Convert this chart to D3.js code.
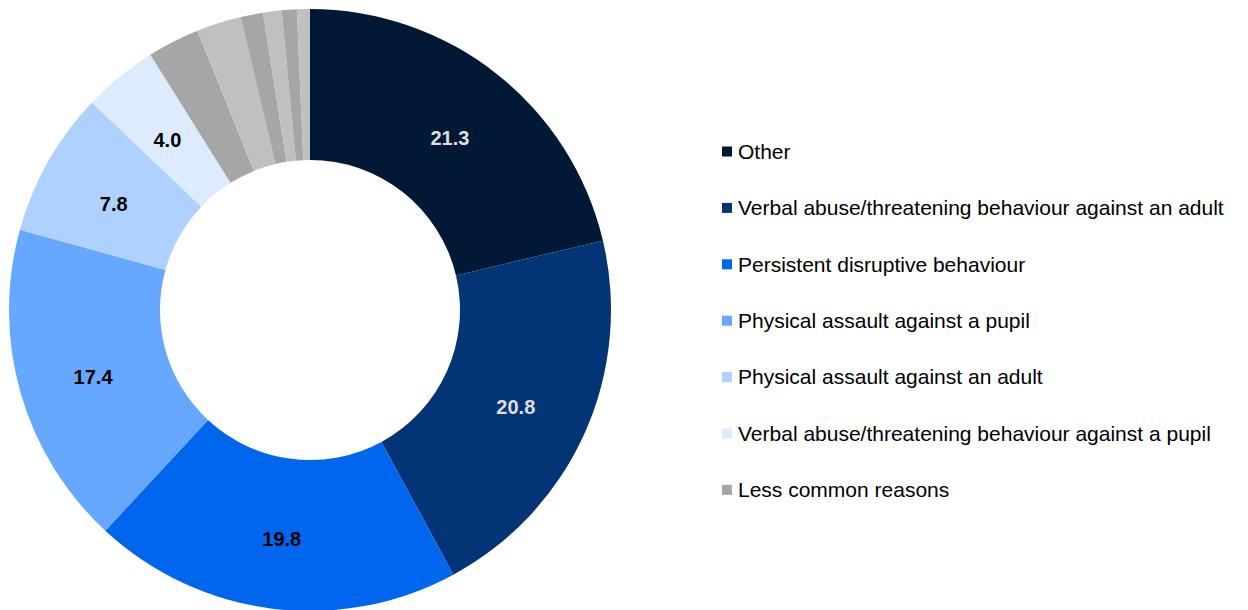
<!DOCTYPE html>
<html>
<head>
<meta charset="utf-8">
<script src="https://cdn.jsdelivr.net/npm/d3@7"></script>
<style>
  body { margin: 0; background: #fff; }
  text { font-family: "Liberation Sans", Arial, sans-serif; }
</style>
</head>
<body>
<div id="chart"></div>
<script>
// slices clockwise from 12 o'clock
var sliceNames = ["Other", "Verbal abuse/threatening behaviour against an adult", "Persistent disruptive behaviour",
    "Physical assault against a pupil", "Physical assault against an adult", "Verbal abuse/threatening behaviour against a pupil",
    "Less common 1", "Less common 2", "Less common 3", "Less common 4", "Less common 5", "Less common 6"]
var sliceValues = [21.3, 20.8, 19.8, 17.4, 7.8, 4.0, 2.8, 2.4, 1.2, 1.0, 0.8, 0.7]
var sliceLabels = ["21.3", "20.8", "19.8", "17.4", "7.8", "4.0", "", "", "", "", "", ""]
var sliceColors = ["#011935", "#033576", "#0066ee", "#66a8ff", "#aed1ff", "#ddebff",
    "#a6a6a6", "#c0c0c0", "#a6a6a6", "#c0c0c0", "#a6a6a6", "#c0c0c0"]
var labelColors = ["#dedede", "#dedede", "#000", "#000", "#000", "#000"]

var legendNames = ["Other", "Verbal abuse/threatening behaviour against an adult", "Persistent disruptive behaviour",
    "Physical assault against a pupil", "Physical assault against an adult",
    "Verbal abuse/threatening behaviour against a pupil", "Less common reasons"]
var legendColors = ["#011935", "#033576", "#0066ee", "#66a8ff", "#aed1ff", "#ddebff", "#a6a6a6"]

var svg = d3.select("#chart").append("svg")
    .attr("width", 1248)
    .attr("height", 610)

var g = svg.append("g")
    .attr("transform", "translate(310,310)")

var pie = d3.pie()
    .sort(null)
    .value(function (d) { return d })

var arc = d3.arc()
    .innerRadius(150)
    .outerRadius(301)

var pieData = pie(sliceValues)

g.selectAll("path")
    .data(pieData)
    .enter()
    .append("path")
    .attr("d", arc)
    .attr("fill", function (d, i) { return sliceColors[i] })

g.selectAll("text")
    .data(pieData)
    .enter()
    .append("text")
    .attr("transform", function (d) { return "translate(" + arc.centroid(d) + ")" })
    .attr("text-anchor", "middle")
    .attr("dy", "0.6em")
    .style("font-size", "20px")
    .style("font-weight", "bold")
    .attr("fill", function (d, i) { return labelColors[i] || "#000" })
    .text(function (d, i) { return sliceLabels[i] })

var legend = svg.append("g")
    .attr("transform", "translate(722,151.5)")

var rows = legend.selectAll("g")
    .data(legendNames)
    .enter()
    .append("g")
    .attr("transform", function (d, i) { return "translate(0," + (i * 56.4) + ")" })

rows.append("rect")
    .attr("x", 0)
    .attr("y", -5)
    .attr("width", 10)
    .attr("height", 10)
    .attr("fill", function (d, i) { return legendColors[i] })

rows.append("text")
    .attr("x", 16)
    .attr("dy", "0.35em")
    .style("font-size", "21px")
    .attr("fill", "#000")
    .text(function (d) { return d })
</script>
</body>
</html>
